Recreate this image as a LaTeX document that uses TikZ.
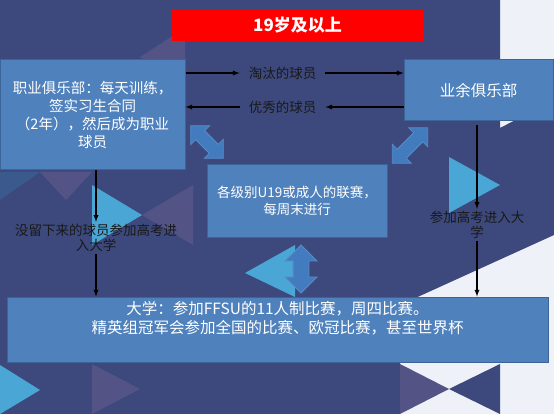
\documentclass[tikz,border=0pt]{standalone}
\usepackage{fontspec}
\setmainfont{Noto Sans CJK SC}
\usetikzlibrary{arrows,shapes.arrows}
\definecolor{navy}{RGB}{61,73,124}
\definecolor{paleback}{RGB}{238,242,248}
\definecolor{plum}{RGB}{84,83,134}
\definecolor{steel}{RGB}{58,90,142}
\definecolor{sky}{RGB}{74,166,212}
\definecolor{boxblue}{RGB}{79,129,189}
\definecolor{boxline}{RGB}{60,100,150}
\definecolor{arrowblue}{RGB}{66,124,190}
\definecolor{arrowline}{RGB}{88,140,200}

\begin{document}
\begin{tikzpicture}[x=1pt,y=-1pt,
  box/.style={draw=boxline, line width=1pt, fill=boxblue, text=white, align=center, inner sep=0pt},
  lbl/.style={text=black!90, align=center, inner xsep=9pt, inner ysep=2pt, font=\fontsize{13.5}{15.5}\selectfont},
  link/.style={-latex, line width=1.3pt, black},
  twoway/.style={double arrow, draw=arrowline, fill=arrowblue, inner xsep=0pt, line width=0.8pt}]
\useasboundingbox (0,0) rectangle (554,414);

% background
\fill[paleback] (0,0) rectangle (554,414);
\fill[navy] (0,0) -- (500,0) -- (500,128) -- (554,100) -- (554,235) -- (400,305) -- (400,414) -- (0,414) -- cycle;
\fill[plum] (185,28) -- (140,57) -- (185,86) -- cycle;
\fill[plum] (193,185) -- (142,215) -- (193,245) -- cycle;
\fill[plum] (40,172) -- (92,172) -- (66,200) -- cycle;
\fill[steel] (0,172) -- (40,172) -- (0,200) -- cycle;
\fill[plum] (92,364) -- (140,389) -- (92,414) -- cycle;
\fill[steel] (190,300) -- (240,330) -- (190,360) -- cycle;
\fill[sky] (92,185) -- (142,215) -- (92,245) -- cycle;
\fill[sky] (245,273) -- (295,245) -- (295,297) -- cycle;
\fill[sky] (449,157) -- (500,185) -- (449,213) -- cycle;
\fill[sky] (0,365) -- (40,390) -- (0,414) -- cycle;
\fill[plum] (400,364) -- (449,389) -- (400,414) -- cycle;
\fill[navy] (500,364) -- (449,389) -- (500,414) -- cycle;

% boxes
\node[box, fill=red, draw=none, minimum width=251pt, minimum height=31pt, font=\bfseries\fontsize{17}{20}\selectfont] (age) at (297.5,25.5) {19岁及以上};
\node[box, minimum width=185pt, minimum height=110pt, font=\fontsize{14.5}{18}\selectfont] (pro) at (92.5,115) {职业俱乐部：每天训练，\\签实习生合同\\（2年），然后成为职业\\球员};
\node[box, minimum width=149pt, minimum height=61pt, font=\fontsize{15.5}{18}\selectfont] (amateur) at (478.5,90.5) {业余俱乐部};
\node[box, minimum width=180pt, minimum height=72pt, font=\fontsize{13.5}{17}\selectfont] (league) at (297,201) {各级别U19或成人的联赛，\\每周末进行};
\node[box, minimum width=541pt, minimum height=65pt, font=\fontsize{15.5}{19}\selectfont] (uni) at (277.5,329.5) {大学：参加FFSU的11人制比赛，周四比赛。\\精英组冠军会参加全国的比赛、欧冠比赛，甚至世界杯\\\strut};

% two-way block arrows
\node[twoway, minimum height=46pt, inner ysep=6pt, double arrow head extend=7pt, rotate=-45] (swapleft) at (207,142) {};
\node[twoway, minimum height=50pt, inner ysep=6pt, double arrow head extend=7pt, rotate=45] (swapright) at (410,145.5) {};
\node[twoway, minimum height=48pt, inner ysep=7.5pt, double arrow head extend=8pt, rotate=90] (swapdown) at (301,269) {};

% labels and arrows
\node[lbl] (dropped) at (282.5,73) {淘汰的球员};
\node[lbl] (promoted) at (282.5,107) {优秀的球员};
\node[lbl] (quit) at (96,238) {没留下来的球员参加高考进\\入大学};
\node[lbl] (exam) at (477,225) {参加高考进入大\\学};

\draw[link] (pro.east |- dropped) -- (dropped.west);
\draw[link] (dropped.east) -- (amateur.west |- dropped);
\draw[link] (amateur.west |- promoted) -- (promoted.east);
\draw[link] (promoted.west) -- (pro.east |- promoted);

\draw[link] (quit.north |- pro.south) -- (quit.north);
\draw[link] (quit.south) -- (uni.north -| quit);
\draw[link, shorten <=4pt] (exam.north |- amateur.south) -- (exam.north);
\draw[link] (exam.south) -- (uni.north -| exam);
\end{tikzpicture}
\end{document}
